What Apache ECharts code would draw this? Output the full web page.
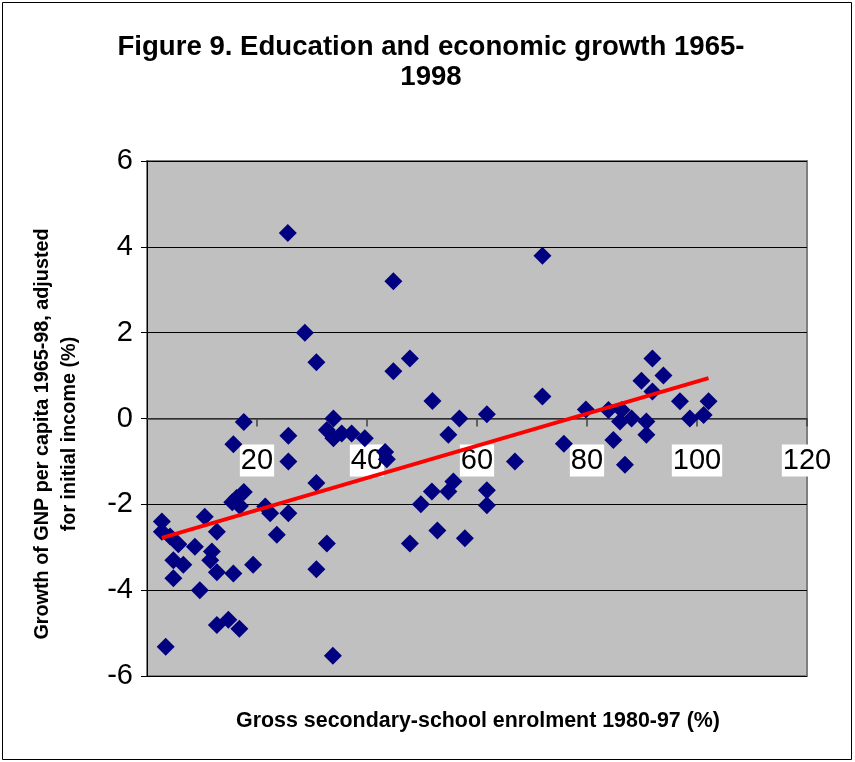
<!DOCTYPE html>
<html>
<head>
<meta charset="utf-8">
<script src="https://cdn.jsdelivr.net/npm/echarts@6/dist/echarts.min.js"></script>
<style>
html,body{margin:0;padding:0;background:#fff;}
#chart{width:855px;height:762px;}
</style>
</head>
<body>
<div id="chart"></div>
<script>
// Gross secondary-school enrolment 1980-97 (%)
const enrolment = [
  25.6, 28.7, 30.8, 44.8, 44.8, 47.8, 71.9, 71.9, 51.9, 56.8,
  61.8, 33.9, 17.6, 25.7, 25.7, 66.9, 15.7, 32.7, 33.9, 35.4,
  37.2, 39.6, 43.3, 43.6, 54.8, 75.8, 30.8, 17.6, 16.3, 15.5,
  16.9, 21.5, 22.4, 25.7, 23.6, 55.7, 54.8, 51.8, 49.8, 61.8,
  61.8, 52.8, 47.8, 57.8, 32.7, 19.3, 30.8, 33.8, 2.7, 2.7,
  4.2, 5.7, 8.7, 10.5, 12.7, 11.8, 11.5, 4.8, 6.6, 12.7,
  15.7, 4.8, 9.6, 12.7, 14.8, 16.8, 3.4, 79.8, 83.9, 86.3,
  86.0, 88.1, 90.8, 90.8, 84.8, 86.9, 89.9, 91.9, 93.9, 91.9,
  96.9, 98.7, 101.2, 102.1
];
// Growth of GNP per capita 1965-98, adjusted for initial income (%)
const growth = [
  4.32, 2.0, 1.31, 3.2, 1.1, 1.4, 3.79, 0.51, 0.41, 0.0,
  0.1, 0.0, -0.08, -0.4, -1.0, -1.0, -0.6, -0.27, -0.46, -0.35,
  -0.35, -0.46, -0.78, -0.95, -0.38, -0.59, -1.5, -1.71, -1.85, -1.95,
  -2.04, -2.05, -2.21, -2.21, -2.71, -1.47, -1.7, -1.7, -2.0, -1.67,
  -2.02, -2.61, -2.91, -2.79, -2.91, -3.41, -3.51, -5.53, -2.4, -2.64,
  -2.75, -2.93, -2.99, -2.29, -2.64, -3.1, -3.3, -3.3, -3.41, -3.58,
  -3.61, -3.72, -4.0, -4.81, -4.69, -4.9, -5.32, 0.21, 0.2, 0.2,
  -0.07, 0.0, -0.07, -0.38, -0.5, -1.08, 0.88, 1.4, 1.0, 0.63,
  0.4, 0.0, 0.08, 0.4
];
// Trend line end points
const trendX = [2.7, 102.1];
const trendY = [-2.78, 0.94];

const xTicks = {min: 0, max: 120, interval: 20};
const yTicks = {min: -6, max: 6, interval: 2};

const titleLines = ['Figure 9. Education and economic growth 1965-', '1998'];
const xName = 'Gross secondary-school enrolment 1980-97 (%)';
const yNameLines = ['Growth of GNP per capita 1965-98, adjusted', 'for initial income (%)'];

const points = enrolment.map((x, i) => [x, growth[i]]);
const trend = trendX.map((x, i) => [x, trendY[i]]);

const FONT = '"Liberation Sans", Arial, sans-serif';

// choose font sizes so that text widths match the reference
const ctx = document.createElement('canvas').getContext('2d');
function sizeFor(text, target) {
  ctx.font = 'bold 20px ' + FONT;
  return Math.round(20 * target / ctx.measureText(text).width * 10) / 10;
}
const titleSize = sizeFor(titleLines[0], 627);
const xNameSize = sizeFor(xName, 483);
const yNameSize = sizeFor(yNameLines[0], 412);

const grid = {left: 147, right: 48, top: 161, bottom: 86};
const plotH = 762 - grid.top - grid.bottom;
const zeroOffset = plotH * (0 - yTicks.min) / (yTicks.max - yTicks.min);

const chart = echarts.init(document.getElementById('chart'), null, {renderer: 'canvas'});
chart.setOption({
  animation: false,
  backgroundColor: '#ffffff',
  grid: Object.assign({show: true, backgroundColor: '#C0C0C0', borderColor: '#808080', borderWidth: 2}, grid),
  xAxis: {
    type: 'value',
    position: 'bottom',
    offset: -zeroOffset,
    min: xTicks.min, max: xTicks.max, interval: xTicks.interval,
    axisLine: {show: true, onZero: false, lineStyle: {color: '#404040', width: 1.5}},
    axisTick: {show: true, inside: false, length: 8, lineStyle: {color: '#404040', width: 1.5}},
    axisLabel: {
      fontFamily: FONT, fontSize: 29, color: '#000',
      backgroundColor: '#ffffff', padding: [2, 1, 1, 1], margin: 26,
      showMinLabel: false
    },
    splitLine: {show: false}
  },
  yAxis: {
    type: 'value',
    min: yTicks.min, max: yTicks.max, interval: yTicks.interval,
    axisLine: {show: true, onZero: false, lineStyle: {color: '#000', width: 1}},
    axisTick: {show: true, length: 6, lineStyle: {color: '#000'}},
    axisLabel: {fontFamily: FONT, fontSize: 29, color: '#000', margin: 14},
    splitLine: {show: true, lineStyle: {color: '#000', width: 1}}
  },
  graphic: [
    {type: 'rect', shape: {x: 2.5, y: 2.5, width: 849, height: 757},
     style: {fill: 'none', stroke: '#000', lineWidth: 1}, silent: true},
    {type: 'text', x: 431, y: 47,
     style: {text: titleLines[0], font: 'bold ' + titleSize + 'px ' + FONT, fill: '#000',
             textAlign: 'center', textVerticalAlign: 'middle'}},
    {type: 'text', x: 431, y: 77,
     style: {text: titleLines[1], font: 'bold ' + titleSize + 'px ' + FONT, fill: '#000',
             textAlign: 'center', textVerticalAlign: 'middle'}},
    {type: 'text', x: 478, y: 721,
     style: {text: xName, font: 'bold ' + xNameSize + 'px ' + FONT, fill: '#000',
             textAlign: 'center', textVerticalAlign: 'middle'}},
    {type: 'text', x: 43, y: 434, rotation: Math.PI / 2,
     style: {text: yNameLines[0], font: 'bold ' + yNameSize + 'px ' + FONT, fill: '#000',
             textAlign: 'center', textVerticalAlign: 'middle'}},
    {type: 'text', x: 70, y: 434, rotation: Math.PI / 2,
     style: {text: yNameLines[1], font: 'bold ' + yNameSize + 'px ' + FONT, fill: '#000',
             textAlign: 'center', textVerticalAlign: 'middle'}}
  ],
  series: [
    {
      type: 'scatter',
      data: points,
      symbol: 'diamond',
      symbolSize: [18, 18],
      itemStyle: {color: '#000080', opacity: 1},
      z: 3
    },
    {
      type: 'line',
      data: trend,
      symbol: 'none',
      lineStyle: {color: '#FF0000', width: 4},
      z: 4
    }
  ]
});
</script>
</body>
</html>
